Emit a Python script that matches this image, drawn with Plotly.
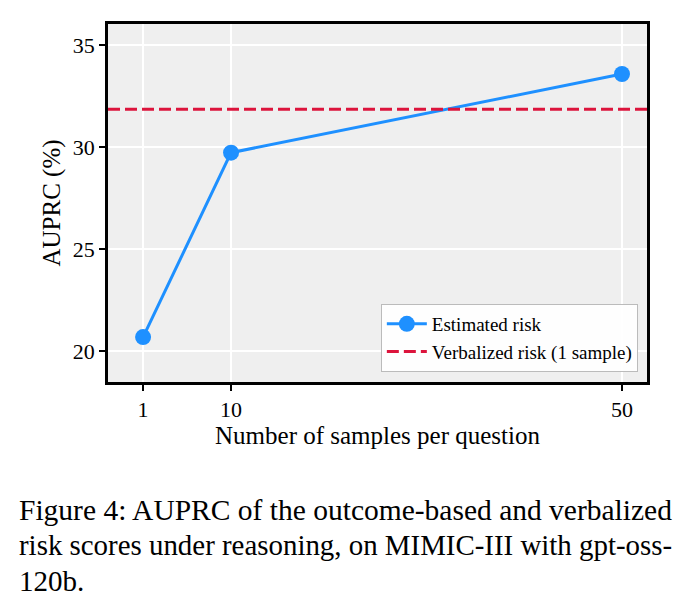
import plotly.graph_objects as go

samples = [1, 10, 50]
estimated_risk = [20.70, 29.73, 33.58]
verbalized_risk = 31.86
x_ticks = [1, 10, 50]
y_ticks = [20, 25, 30, 35]
caption_lines = [
    "Figure 4: AUPRC of the outcome-based and verbalized",
    "risk scores under reasoning, on MIMIC-III with gpt-oss-",
    "120b.",
]
caption_sizes = [29.5, 28.9, 29]

SERIF = "Liberation Serif, Times New Roman, serif"
BLUE = "#1E90FF"
RED = "#DC143C"

fig = go.Figure()
fig.add_trace(go.Scatter(
    x=samples, y=estimated_risk, mode="lines+markers", name="Estimated risk",
    line=dict(color=BLUE, width=3), marker=dict(size=16, color=BLUE),
))
fig.add_trace(go.Scatter(
    x=[None], y=[None], mode="lines", name="Verbalized risk (1 sample)",
    line=dict(color=RED, width=3, dash="12px,5px"),
))
fig.add_shape(type="line", xref="paper", x0=0, x1=1, yref="y",
              y0=verbalized_risk, y1=verbalized_risk,
              line=dict(color=RED, width=3, dash="12px,5px"), layer="above")

# caption baselines at ~519, 555, 590 px
plot_top, plot_h = 24.3, 357.4
for i, (line, sz) in enumerate(zip(caption_lines, caption_sizes)):
    base_px = 519 + i * 35.5
    fig.add_annotation(text=line, xref="paper", yref="paper", x=-0.168,
                       y=(plot_top + plot_h - (base_px - 10)) / plot_h,
                       xanchor="left", yanchor="middle",
                       showarrow=False, font=dict(family=SERIF, size=sz, color="black"))

axis_common = dict(
    showline=True, linecolor="black", linewidth=2.5, mirror=True,
    ticks="outside", ticklen=6, tickwidth=1.5, tickcolor="black",
    showgrid=True, gridcolor="white", gridwidth=1.5, zeroline=False,
    tickfont=dict(family=SERIF, size=22, color="black"),
)

fig.update_layout(
    width=693, height=615,
    margin=dict(l=108, r=46, t=24, b=233),
    paper_bgcolor="white", plot_bgcolor="#EFEFEF",
    font=dict(family=SERIF, color="black"),
    xaxis=dict(range=[-2.59, 52.56], tickvals=x_ticks,
               title=dict(text="Number of samples per question", font=dict(family=SERIF, size=25), standoff=6),
               **axis_common),
    yaxis=dict(range=[18.5, 36.03], tickvals=y_ticks,
               title=dict(text="AUPRC (%)", font=dict(family=SERIF, size=25), standoff=6),
               **axis_common),
    legend=dict(x=0.983, y=0.028, xanchor="right", yanchor="bottom",
                bgcolor="rgba(255,255,255,0.9)", bordercolor="#BBBBBB", borderwidth=1,
                font=dict(family=SERIF, size=19, color="black"), tracegroupgap=0,
                itemwidth=40),
    showlegend=True,
)

fig.write_html("out.html")
